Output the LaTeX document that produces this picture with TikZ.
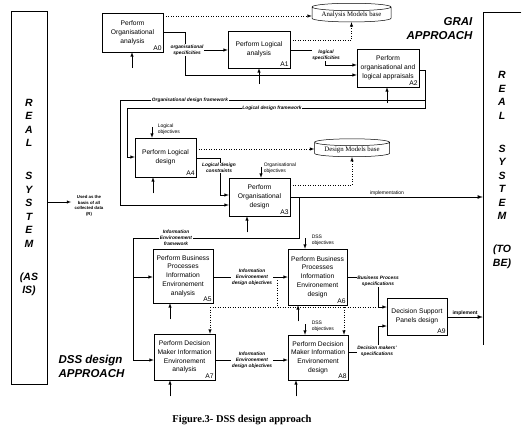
\documentclass[tikz,border=0pt]{standalone}
\usepackage{fontspec}
\setmainfont{Liberation Sans}
\newfontfamily\serifcap{Liberation Serif}
\usetikzlibrary{shapes.geometric}
\newcommand\actfont{\fontsize{6.7}{8.8}\selectfont}
\newcommand\flowfont{\fontsize{4.8}{6}\selectfont\bfseries\itshape}
\newcommand\ctrlfont{\fontsize{5}{6}\selectfont}
\newcommand\sysfont{\fontsize{10.5}{13.5}\selectfont\bfseries\itshape}
\newcommand\approachfont{\fontsize{11.5}{14}\selectfont\bfseries\itshape}
\tikzset{
	act/.style={draw, fill=white, align=center, font=\actfont, inner sep=1pt},
	actid/.style={anchor=south east, font=\actfont, inner sep=1.5pt},
	modelbase/.style={draw, cylinder, shape border rotate=90, aspect=0.12, minimum height=17pt, font=\serifcap\fontsize{6.8}{8}\selectfont, inner sep=1pt},
	flow/.style={fill=white, align=center, font=\flowfont, inner sep=0.5pt},
	ctrl/.style={align=left, font=\ctrlfont, inner sep=0.5pt}
}
\begin{document}
\begin{tikzpicture}[x=1pt, y=-1pt, >=latex, line width=0.5pt]
		\useasboundingbox (0,0) rectangle (531,436);
		% real systems
		\node[draw, minimum width=36pt, minimum height=373pt, font=\sysfont, align=center] (asis) at (29,197.5) {R\\E\\A\\L\\[19.5pt]S\\Y\\S\\T\\E\\M\\[19.5pt](AS\\IS)};
		\node[minimum width=38pt, minimum height=314pt, font=\sysfont, align=center] (tobe) at (502,170) {R\\E\\A\\L\\[19.5pt]S\\Y\\S\\T\\E\\M\\[19.5pt](TO\\BE)};
		\draw (tobe.north east) -- (tobe.north west) -- ([yshift=-18pt]tobe.south west);
		\node[font=\approachfont, align=right, anchor=north east] (grai) at (476,14) {GRAI\\APPROACH};
		\node[font=\approachfont, align=left, anchor=north west] (dss) at (55,352) {DSS design\\APPROACH};
		\node[font=\serifcap\bfseries\fontsize{10.5}{12}\selectfont] (fig) at (242,420) {Figure.3- DSS design approach};
		% activities
		\node[act, minimum width=61pt, minimum height=39pt, label={[actid]south east:A0}] (A0) at (132.5,32.5) {Perform\\Organisational\\analysis};
		\node[act, minimum width=62pt, minimum height=37pt, label={[actid]south east:A1}] (A1) at (259,49.5) {Perform Logical\\analysis};
		\node[act, minimum width=62pt, minimum height=38pt, label={[actid]south east:A2}] (A2) at (388,68) {Perform\\organisational and\\logical appraisals};
		\node[act, minimum width=61pt, minimum height=39pt, label={[actid]south east:A4}] (A4) at (165.5,157.5) {Perform Logical\\design};
		\node[act, minimum width=61pt, minimum height=38pt, label={[actid]south east:A3}] (A3) at (259.5,197) {Perform\\Organisational\\design};
		\node[act, minimum width=60pt, minimum height=54pt, label={[actid]south east:A5}] (A5) at (183,276) {Perform Business\\Processes\\Information\\Environement\\analysis};
		\node[act, minimum width=59pt, minimum height=56pt, label={[actid]south east:A6}] (A6) at (317.5,277) {Perform Business\\Processes\\Information\\Environement\\design};
		\node[act, minimum width=61pt, minimum height=46pt, label={[actid]south east:A7}] (A7) at (184.5,357) {Perform Decision\\Maker Information\\Environement\\analysis};
		\node[act, minimum width=60pt, minimum height=45pt, label={[actid]south east:A8}] (A8) at (318,357.5) {Perform Decision\\Maker Information\\Environement\\design};
		\node[act, minimum width=60pt, minimum height=37pt, label={[actid]south east:A9}] (A9) at (417,316.5) {Decision Support\\Panels design};
		\node[modelbase, minimum width=79pt] (anbase) at (351.5,15) {Analysis Models base};
		\node[modelbase, minimum width=75pt] (dmbase) at (352,150) {Design Models base};
		% GRAI flows
		\draw[dotted, ->] (A0.east |- 0,16) -- (anbase.west |- 0,16);
		\draw[->] (A0.east |- 0,32) -- (185,32) -- (185,75) -- (A2.west |- 0,75);
		\node[flow] (orgspec) at (187,50) {organisational\\specificities};
		\draw[->] (orgspec.east) -- (A1.west |- orgspec.east);
		\draw[->] (A1.east |- 0,50) -- (325,50) -- (325,65) -- (A2.west |- 0,65);
		\node[flow] (logspec) at (326,55) {logical\\specificities};
		\draw[dotted, ->] (A1.east |- 0,40) -- (anbase.south |- 0,40) -- (anbase.south);
		\coordinate (fw) at (425,100);
		\draw[->] (A2.east |- 0,70) -- (fw |- 0,70) -- (fw) -- (120,100) -- (120,205) -- (A3.west |- 0,205);
		\draw[->] (fw) -- (425,108) -- (127,108) -- (127,157) -- (A4.west |- 0,157);
		\node[flow] (orgfw) at (190,100) {Organisational design framework};
		\node[flow] (logfw) at (272,108) {Logical design framework};
		\node[ctrl, anchor=south west] (logobj) at (157,135) {Logical\\objectives};
		\draw[->] (152,127) -- (A4.north -| 152,0);
		\draw[->] (A4.east |- 0,158) -- (220,158) -- (220,195) -- (A3.west |- 0,195);
		\node[flow] (logcons) at (219,168) {Logical design\\constraints};
		\node[ctrl, anchor=south west] (orgobj) at (263,174) {Organisational\\objectives};
		\draw[->] (261,167) -- (A3.north -| 261,0);
		\draw[dotted, ->] (A4.east |- 0,149) -- (dmbase.west |- 0,149);
		\draw[dotted, ->] (A3.east |- 0,185) -- (dmbase.south |- 0,185) -- (dmbase.south);
		\draw[->, thick] (A3.east) -- (tobe.west |- A3.east);
		\node[ctrl, anchor=south] (impl) at (387,196) {implementation};
		% DSS flows
		\draw[->] (299,197) -- (299,238) -- (133,238) -- (133,360) -- (A7.west |- 0,360);
		\draw[->] (133,277) -- (A5.west |- 0,277);
		\node[flow] (iefw) at (176,238) {Information\\Environement\\framework};
		\draw[->] (A5.east |- 0,277) -- (A6.west |- 0,277);
		\node[flow] (iedo) at (252,277) {Information\\Environement\\design objectives};
		\draw[->] (A7.east |- 0,360) -- (A8.west |- 0,360);
		\node[flow] (iedt) at (252,360) {Information\\Environement\\design objectives};
		\node[ctrl, anchor=west] (dssobj) at (311,240) {DSS\\objectives};
		\draw[->] (305,238) -- (A6.north -| 305,0);
		\node[ctrl, anchor=west] (dssobt) at (311,326) {DSS\\objectives};
		\draw[->] (305,324) -- (A8.north -| 305,0);
		\draw[dotted] (277,280) -- (277,307);
		\draw[dotted] (210,307) -- (378,307);
		\draw[dotted, ->] (210,307) -- (A7.north -| 210,0);
		\draw[dotted, ->] (344,307) -- (A8.north -| 344,0);
		\draw[->] (A6.east |- 0,277) -- (378,277) -- (378,307) -- (A9.west |- 0,307);
		\node[flow] (bpspec) at (378,281) {Business Process\\specifications};
		\draw[->] (A8.east |- 0,352) -- (378,352) -- (378,326) -- (A9.west |- 0,326);
		\node[flow] (dmspec) at (377,351) {Decision makers'\\specifications};
		\draw[->, thick] (A9.east |- 0,317) -- (tobe.west |- 0,317);
		\node[ctrl, font=\ctrlfont\bfseries, anchor=south] (implt) at (465,316) {implement};
		% basis of collected data
		\node[align=center, font=\fontsize{4.3}{5.5}\selectfont\bfseries] (basis) at (89,206) {Used as the\\basis of all\\collected data\\(R)};
		\draw[->] (asis.east |- 0,202) -- (basis.west |- 0,202);
		\foreach \n/\x in {A0/132, A1/259, A2/387, A4/153, A3/247, A5/170, A6/298, A7/170, A8/296}
			\draw[->] (\n.south -| \x,0) ++(0,16) -- (\n.south -| \x,0);
	\end{tikzpicture}
\end{document}
